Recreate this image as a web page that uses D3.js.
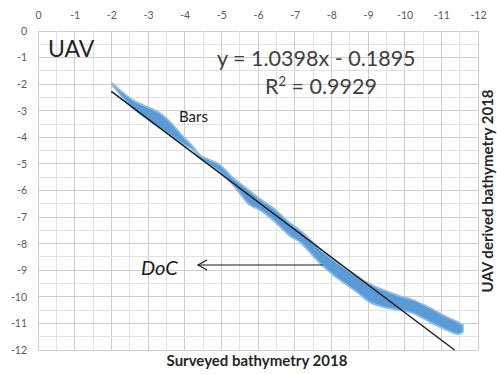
<!DOCTYPE html>
<html><head><meta charset="utf-8">
<script src="https://cdn.jsdelivr.net/npm/d3@7"></script>
<style>body{margin:0;background:#fff}svg{display:block}</style>
</head><body>
<script>
// ---- data ----
const xTickLabels = [0,-1,-2,-3,-4,-5,-6,-7,-8,-9,-10,-11,-12];
const yTickLabels = [0,-1,-2,-3,-4,-5,-6,-7,-8,-9,-10,-11,-12];
// point-cloud envelope: surveyed depth vs UAV-derived depth (upper / lower edge)
const surveyed = [-2.02,-2.59,-3.33,-3.60,-3.87,-4.23,-4.42,-4.96,-5.32,-5.78,-6.05,-6.41,-6.87,-7.14,-7.77,-8.24,-8.70,-9.05,-9.41,-9.87,-10.23,-10.69,-11.15,-11.45,-11.59];
const uavUpper = [-1.96,-2.60,-3.09,-3.42,-3.84,-4.36,-4.67,-5.04,-5.53,-6.02,-6.32,-6.66,-7.22,-7.49,-8.31,-8.80,-9.22,-9.52,-9.74,-9.97,-10.12,-10.42,-10.76,-10.95,-11.06];
const uavLower = [-2.03,-2.90,-3.65,-3.91,-4.18,-4.48,-4.78,-5.30,-5.79,-6.55,-6.73,-7.11,-7.71,-7.94,-8.84,-9.37,-9.82,-10.20,-10.38,-10.50,-10.61,-10.95,-11.25,-11.40,-11.32];
const trendSlope = 1.0398, trendIntercept = -0.1895, trendR2 = 0.9929;
const trendXRange = [-2.0, -11.36];

const W = 497, H = 374;
const m = {left:38, right:478, top:31, bottom:350};
const svg = d3.select("body").append("svg").attr("width",W).attr("height",H);
const font = "Lato, 'Open Sans', sans-serif";

const x = d3.scaleLinear().domain([0,-12]).range([m.left,m.right]);
const y = d3.scaleLinear().domain([0,-12]).range([m.top,m.bottom]);

// grid
const g = svg.append("g");
const halfs = d3.range(0,-12.01,-0.5);
halfs.forEach(v=>{
  const major = Math.abs(v - Math.round(v))<1e-6;
  g.append("line").attr("x1",x(v)).attr("x2",x(v)).attr("y1",m.top).attr("y2",m.bottom)
   .attr("stroke", major?"#cdcdcd":"#e2e2e2").attr("stroke-width",1).attr("shape-rendering","crispEdges");
  g.append("line").attr("y1",y(v)).attr("y2",y(v)).attr("x1",m.left).attr("x2",m.right)
   .attr("stroke", major?"#cdcdcd":"#e2e2e2").attr("stroke-width",1).attr("shape-rendering","crispEdges");
});

// axes (labels only)
const xAxis = d3.axisTop(x).tickValues(xTickLabels).tickSize(0).tickPadding(0).tickFormat(d=>d);
const xa = svg.append("g").attr("transform",`translate(0,${m.top-12})`).call(xAxis);
const yAxis = d3.axisLeft(y).tickValues(yTickLabels).tickSize(0).tickPadding(0).tickFormat(d=>d);
const ya = svg.append("g").attr("transform",`translate(${m.left-11},0)`).call(yAxis);
[xa,ya].forEach(a=>{
  a.select(".domain").remove();
  a.selectAll("text").attr("fill","#595959").style("font-family",font).style("font-size","10.5px");
});

// point cloud band
const pts = surveyed.map((s,i)=>({s, hi:uavUpper[i], lo:uavLower[i]}));
const area = d3.area().x(d=>x(d.s)).y0(d=>y(d.lo)).y1(d=>y(d.hi)).curve(d3.curveCatmullRom);
svg.append("path").datum(pts).attr("d",area)
  .attr("fill","#5b9bd5").attr("stroke","#8cbbe8").attr("stroke-width",1.8).attr("stroke-linejoin","round");

// trendline
const tl = trendXRange.map(v=>({x:v, y:trendSlope*v+trendIntercept}));
svg.append("path").datum(tl).attr("d", d3.line().x(d=>x(d.x)).y(d=>y(d.y)))
  .attr("stroke","#1a1a1a").attr("stroke-width",1.4).attr("fill","none");

// annotations
svg.append("text").attr("x",48).attr("y",57).text("UAV")
  .style("font-family",font).style("font-size","23px").attr("fill","#262626");
svg.append("text").attr("x",217).attr("y",66).text(`y = ${trendSlope}x - ${Math.abs(trendIntercept)}`)
  .style("font-family",font).style("font-size","21.5px").attr("fill","#404040");
const r2 = svg.append("text").attr("x",265).attr("y",94)
  .style("font-family",font).style("font-size","21.5px").attr("fill","#404040");
r2.append("tspan").text("R");
r2.append("tspan").text("2").attr("dy",-8).style("font-size","13px");
r2.append("tspan").text(` = ${trendR2}`).attr("dy",8);
svg.append("text").attr("x",179).attr("y",122).text("Bars")
  .style("font-family",font).style("font-size","15px").attr("fill","#1a1a1a");
svg.append("text").attr("x",141).attr("y",275).text("DoC")
  .style("font-family",font).style("font-size","20px").style("font-style","italic").attr("fill","#1a1a1a");
// arrow
svg.append("line").attr("x1",198).attr("x2",323).attr("y1",265).attr("y2",265).attr("stroke","#1a1a1a").attr("stroke-width",1.2);
svg.append("path").attr("d","M207,260 L198,265 L207,270").attr("fill","none").attr("stroke","#1a1a1a").attr("stroke-width",1.2);

// axis titles
svg.append("text").attr("x",257).attr("y",366).attr("text-anchor","middle").text("Surveyed bathymetry 2018")
  .style("font-family",font).style("font-size","15px").style("font-weight","bold").attr("fill","#262626");
svg.append("text").attr("transform","translate(493,191) rotate(-90)").attr("text-anchor","middle").text("UAV derived bathymetry 2018")
  .style("font-family",font).style("font-size","15px").style("font-weight","bold").attr("fill","#262626");
</script>
</body></html>
